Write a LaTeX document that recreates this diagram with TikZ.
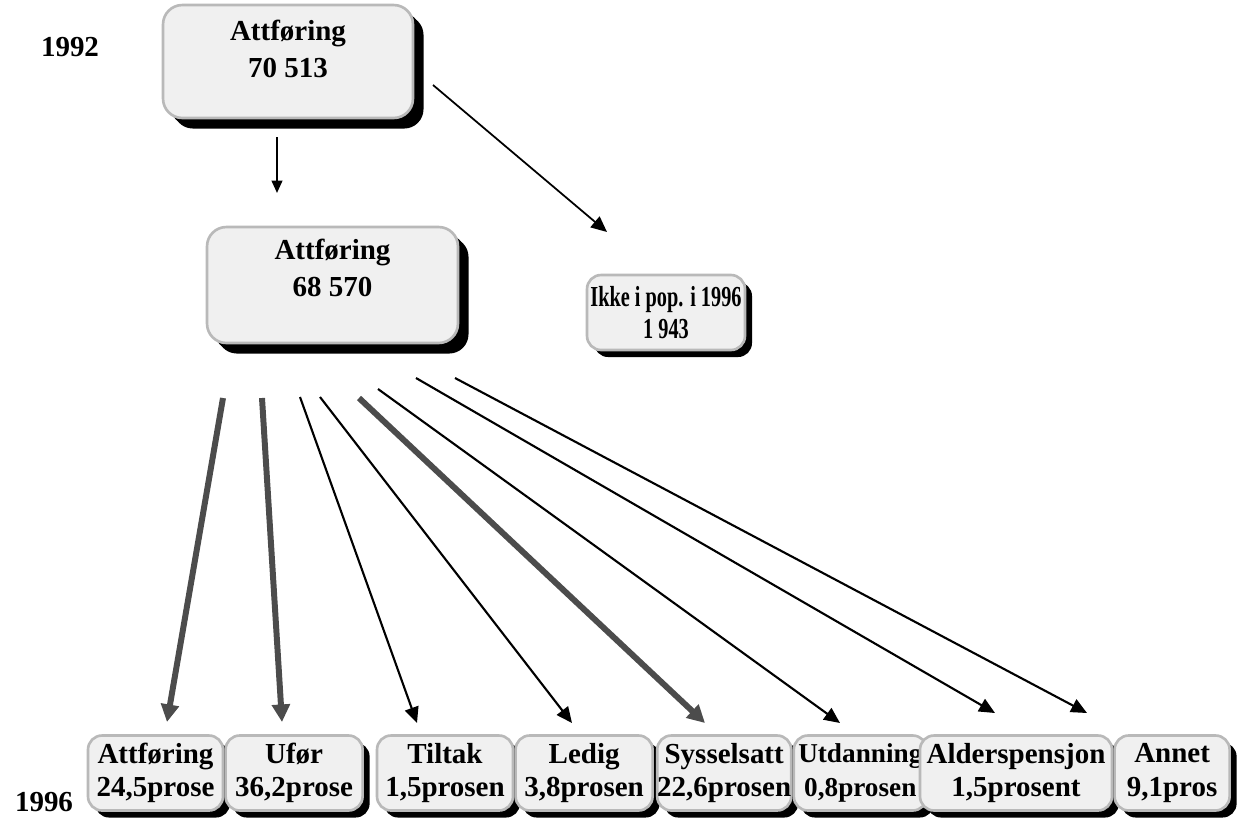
\documentclass[tikz,border=0pt]{standalone}
\usepackage{fontspec}
\usepackage{graphicx}
\setmainfont{Liberation Serif}
\usetikzlibrary{positioning, arrows.meta, shadows}

\tikzset{
  box/.style={draw=gray!55, line width=1.5pt, fill=gray!12, rounded corners=8pt,
    inner sep=0pt, align=center, minimum height=1.5cm,
    font=\bfseries\fontsize{16.5}{19}\selectfont,
    drop shadow={shadow xshift=4pt, shadow yshift=-4pt, fill=black, opacity=1}},
  bigbox/.style={box, rounded corners=11pt,
    drop shadow={shadow xshift=6pt, shadow yshift=-6pt, fill=black, opacity=1}},
  txt/.style={align=center, font=\bfseries\fontsize{16.5}{21}\selectfont},
  thin/.style={line width=1.2pt, -{Triangle[length=9pt,width=8pt]}},
  fat/.style={draw=black!70, line width=3.4pt, -{Triangle[length=10pt,width=10pt]}}
}

\begin{document}
\begin{tikzpicture}[x=0.02cm, y=-0.02cm]
\useasboundingbox (0,0) rectangle (1247,819);
% years
\node[txt] (y92) at (70,47) {1992};
\node[txt] (y96) at (44,802) {1996};
% upper boxes
\node[bigbox, minimum width=5cm, minimum height=2.26cm] (top92) at (288,61.5) {};
\node[txt] (top92t) at (288,48.5) {Attføring\\70 513};
\node[bigbox, minimum width=5.02cm, minimum height=2.32cm] (mid96) at (332.5,285) {};
\node[txt] (mid96t) at (332.5,268) {Attføring\\68 570};
\node[box, minimum width=3.16cm, font=\bfseries\fontsize{16.5}{18}\selectfont] (ikke) at (666,312.5)
  {\scalebox{0.7}[1]{Ikke i pop. i 1996}\\\scalebox{0.7}[1]{1 943}};
% lower row
\node[box, minimum width=2.7cm] (att) at (155.5,773) {Attføring\\24,5prose};
\node[box, minimum width=2.74cm, right=0cm of att] (ufor) {Ufør\\36,2prose};
\node[box, minimum width=2.72cm] (tiltak) at (445,773) {Tiltak\\1,5prosen};
\node[box, minimum width=2.74cm, right=0cm of tiltak] (ledig) {Ledig\\3,8prosen};
\node[box, minimum width=2.6cm, right=0.04cm of ledig] (syss) {Sysselsatt\\22,6prosen};
\node[box, minimum width=2.66cm, right=0cm of syss, font=\bfseries\fontsize{15.5}{19}\selectfont] (utd) {Utdanning\\0,8prosen};
\node[box, minimum width=3.84cm] (alder) at (1016,773) {Alderspensjon\\1,5prosent};
\node[box, minimum width=2.3cm, right=0cm of alder] (annet) {Annet\\9,1pros};
% arrow ends
\coordinate (a0) at (277,137);  \coordinate (b0) at (277,193);
\coordinate (a9) at (433,85);   \coordinate (b9) at (607,232);
\coordinate (a1) at (223,398);  \coordinate (b1) at (167,722);
\coordinate (a2) at (262,398);  \coordinate (b2) at (282,722);
\coordinate (a3) at (300,397);  \coordinate (b3) at (417,723);
\coordinate (a4) at (320,397);  \coordinate (b4) at (572,723);
\coordinate (a5) at (359,398);  \coordinate (b5) at (705,723);
\coordinate (a6) at (378,389);  \coordinate (b6) at (840,723);
\coordinate (a7) at (416,378);  \coordinate (b7) at (995,713);
\coordinate (a8) at (455,378);  \coordinate (b8) at (1087,713);
% arrows
\draw[line width=1.2pt, -{Triangle[length=7pt,width=6pt]}] (a0) -- (b0);
\draw[line width=1pt, -{Triangle[length=9pt,width=8pt]}] (a9) -- (b9);
\draw[fat] (a1) -- (b1);
\draw[fat] (a2) -- (b2);
\draw[thin] (a3) -- (b3);
\draw[thin] (a4) -- (b4);
\draw[fat] (a5) -- (b5);
\draw[thin] (a6) -- (b6);
\draw[thin] (a7) -- (b7);
\draw[thin] (a8) -- (b8);
\end{tikzpicture}
\end{document}
